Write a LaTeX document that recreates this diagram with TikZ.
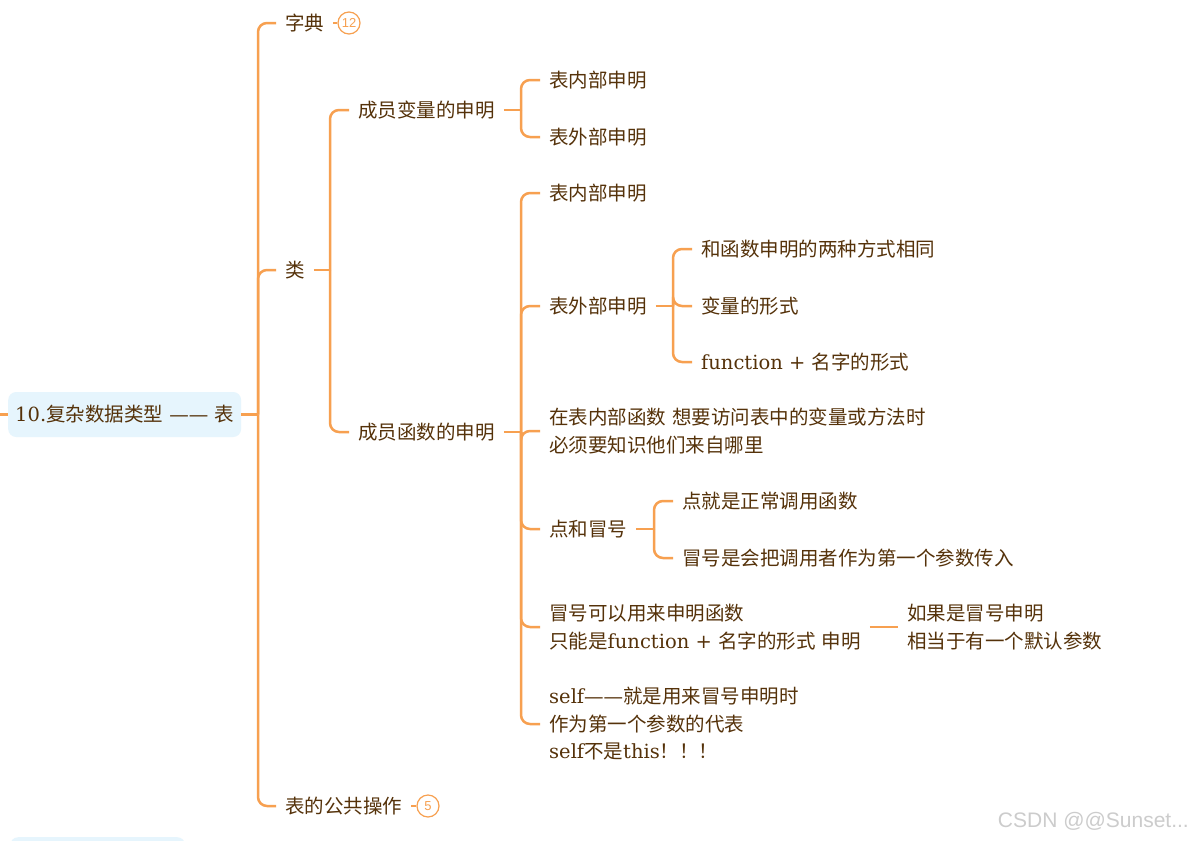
\documentclass[tikz,border=0pt]{standalone}
\usepackage{fontspec}
\setmainfont{DejaVu Serif}
\newfontfamily\cjkf{Noto Sans CJK SC}
\newfontfamily\latf{DejaVu Serif}
\newfontfamily\wmf{Liberation Sans}
\XeTeXinterchartokenstate=1
\newXeTeXintercharclass\cjkcls
\newcount\cjkc
\def\setcjkrange#1#2{\cjkc=#1\relax\loop\XeTeXcharclass\cjkc=\cjkcls\relax\ifnum\cjkc<#2\relax\advance\cjkc by 1\relax\repeat}
\setcjkrange{"3000}{"303F}
\setcjkrange{"4E00}{"9FFF}
\setcjkrange{"FF00}{"FFEF}
\XeTeXinterchartoks 0 \cjkcls = {\cjkf}
\XeTeXinterchartoks 4095 \cjkcls = {\cjkf}
\XeTeXinterchartoks \cjkcls 0 = {\latf}
\XeTeXinterchartoks \cjkcls 4095 = {\latf}
\definecolor{br}{RGB}{85,50,10}
\definecolor{org}{RGB}{247,160,80}
\definecolor{rootbg}{RGB}{230,245,253}
\begin{document}
\begin{tikzpicture}[x=1pt,y=-1pt,
  topic/.style={anchor=west, inner xsep=9pt, inner ysep=2pt, text=br, align=left,
    font=\fontsize{19.5}{27.5}\selectfont},
  rootn/.style={anchor=west, fill=rootbg, rounded corners=8pt, inner xsep=7pt,
    minimum height=45pt, text=br, font=\fontsize{19.5}{27.5}\selectfont},
  link/.style={draw=org, line width=2.5pt, rounded corners=9pt},
  badge/.style={circle, draw=org, line width=1.2pt, fill=white, minimum size=22pt,
    inner sep=0pt, text=org, font=\wmf\fontsize{13}{13}\selectfont}]
\useasboundingbox (0,0) rectangle (1192,841);
\clip (0,0) rectangle (1192,841);
\fill[white] (0,0) rectangle (1192,841);

% root
\node[rootn] (root) at (8,414.5) {10.复杂数据类型 —— 表};
\coordinate (offp) at (-5,414.5);
\draw[link] (offp) -- (root.west);
\node[fill=rootbg, rounded corners=8pt, minimum width=175pt, minimum height=40pt,
  anchor=north west, inner sep=0pt] (nextroot) at (10,837) {};

% level 1
\coordinate (j0) at (258,414.5);
\draw[link] (root.east) -- (j0);
\node[topic] (zd) at (276,23) {字典};
\node[topic] (lei) at (276,270) {类};
\node[topic] (gg) at (276,806) {表的公共操作};
\draw[link] (j0) |- (zd.west);
\draw[link] (j0) |- (lei.west);
\draw[link] (j0) |- (gg.west);
\node[badge] (b1) at (349,23) {12};
\node[badge] (b2) at (428,806) {5};
\draw[link] (zd.east) -- (b1.west);
\draw[link] (gg.east) -- (b2.west);

% level 2
\coordinate (j1) at (330,270);
\draw[link] (lei.east) -- (j1);
\node[topic] (cb) at (349,110) {成员变量的申明};
\node[topic] (ch) at (349,432) {成员函数的申明};
\draw[link] (j1) |- (cb.west);
\draw[link] (j1) |- (ch.west);

% level 3 (variables)
\coordinate (j2) at (521,110);
\draw[link] (cb.east) -- (j2);
\node[topic] (a1) at (540,80) {表内部申明};
\node[topic] (a2) at (540,137) {表外部申明};
\draw[link] (j2) |- (a1.west);
\draw[link] (j2) |- (a2.west);

% level 3 (functions)
\coordinate (j3) at (521,432);
\draw[link] (ch.east) -- (j3);
\node[topic] (c1) at (540,193) {表内部申明};
\node[topic] (c2) at (540,306) {表外部申明};
\node[topic] (c3) at (540,431) {在表内部函数 想要访问表中的变量或方法时\\必须要知识他们来自哪里};
\node[topic] (c4) at (540,529) {点和冒号};
\node[topic] (c5) at (540,627) {冒号可以用来申明函数\\只能是function + 名字的形式 申明};
\node[topic] (c6) at (540,724) {self——就是用来冒号申明时\\作为第一个参数的代表\\self不是this！！！};
\foreach \n in {c1,c2,c3,c4,c5,c6} {\draw[link] (j3) |- (\n.west);}

% level 4
\coordinate (j4) at (673,306);
\draw[link] (c2.east) -- (j4);
\node[topic] (d1) at (692,249) {和函数申明的两种方式相同};
\node[topic] (d2) at (692,306) {变量的形式};
\node[topic] (d3) at (692,362) {function + 名字的形式};
\foreach \n in {d1,d2,d3} {\draw[link] (j4) |- (\n.west);}

\coordinate (j5) at (654,529);
\draw[link] (c4.east) -- (j5);
\node[topic] (e1) at (673,501) {点就是正常调用函数};
\node[topic] (e2) at (673,558) {冒号是会把调用者作为第一个参数传入};
\draw[link] (j5) |- (e1.west);
\draw[link] (j5) |- (e2.west);

\node[topic] (f1) at (898,627) {如果是冒号申明\\相当于有一个默认参数};
\draw[link] (c5.east) -- (f1.west);

% watermark
\node[anchor=east, text=gray!40, inner sep=0pt, font=\wmf\fontsize{21}{21}\selectfont] (wm) at (1189,821) {CSDN @@Sunset...};
\end{tikzpicture}
\end{document}
